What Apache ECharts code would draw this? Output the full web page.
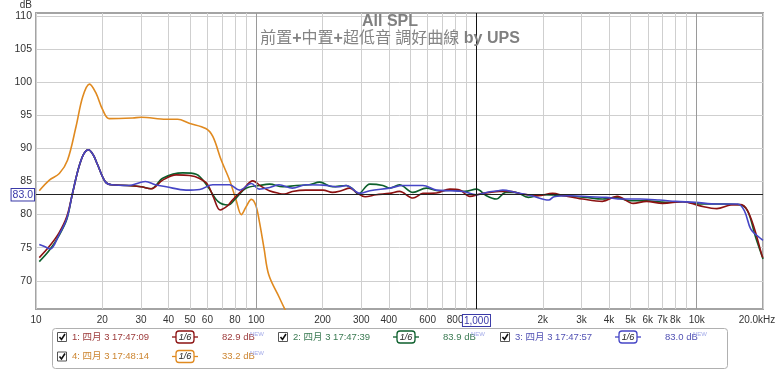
<!DOCTYPE html>
<html><head><meta charset="utf-8">
<script src="https://cdn.jsdelivr.net/npm/echarts@6/dist/echarts.min.js"></script>
<style>html,body{margin:0;padding:0;background:#fff}#c{width:780px;height:369px}</style>
</head><body><div id="c"></div>
<script>
const titleLine1 = 'All SPL';
const titleLine2 = '前置+中置+超低音 調好曲線 by UPS';
const yAxisName = 'dB';
const xTickValues = [10,20,30,40,50,60,80,100,200,300,400,600,800,1000,2000,3000,4000,5000,6000,7000,8000,10000,20000];
const xTickLabels = ['10','20','30','40','50','60','80','100','200','300','400','600','800','1,000','2k','3k','4k','5k','6k','7k','8k','10k','20.0kHz'];
const xGridValues = [10,20,30,40,50,60,70,80,90,100,200,300,400,500,600,700,800,900,1000,2000,3000,4000,5000,6000,7000,8000,9000,10000,20000];
const yTickValues = [70,75,80,85,90,95,100,105,110];
const refLevel = 83.0;
const refFreq = 1000;
const decadeFreqs = [100, 10000];

const seriesNames = ['1: 四月 3 17:47:09','2: 四月 3 17:47:39','3: 四月 3 17:47:57','4: 四月 3 17:48:14'];
const seriesLevels = ['82.9 dB','83.9 dB','83.0 dB','33.2 dB'];
const smoothingLabel = '1/6';
const newTag = 'NEW';

const freq1 = [10.35,11.5,12.7,13.8,14.6,15.6,16.5,17.3,18.2,19.0,20.6,22,26,30,33.3,37.6,43.3,49.8,55,60,64,68.6,74,78,86.6,96.5,105,114.6,127,134,146,168,201,222,243,266,285,312,350,403,447,515,571,658,757,840,932,1035,1147,1270,1407,1610,1906,2217,2500,3040,3730,4350,5150,5920,7000,8650,10270,12350,14300,15900,17000,18200,19800,20000];
const db1 = [73.5,75.2,77.2,79.7,83.0,87.0,89.2,89.8,89.0,87.6,85.0,84.5,84.4,84.2,83.9,85.2,86.0,85.9,85.5,84.6,82.6,80.7,81.3,82.2,83.7,85.1,84.3,83.6,83.2,83.1,83.5,83.7,83.7,83.35,83.6,84.0,83.35,82.7,83.0,83.2,83.5,82.5,83.2,83.25,83.85,83.7,82.75,83.1,83.35,83.5,83.5,83.1,82.85,83.2,82.85,82.35,82.0,82.75,81.7,82.0,81.7,81.95,81.35,80.9,81.45,81.5,80.6,78.1,73.8,73.5];

const freq2 = [10.35,11.5,12.7,13.8,14.6,15.6,16.5,17.3,18.2,19.0,20.6,22,26,30,33.3,37.6,46.4,53.4,60.3,67,74.5,81,90,103.4,115,132,152,174,194,222,256,275,290,328,376,403,447,515,592,676,779,883,1000,1110,1230,1360,1505,1720,2010,2250,2570,3150,3730,4270,4950,5920,7250,8650,10270,13300,15600,17000,18500,20000];
const db2 = [72.9,74.6,76.8,79.3,83.0,87.0,89.2,89.8,89.0,87.6,85.0,84.5,84.4,84.2,83.9,85.5,86.3,86.1,84.2,82.0,81.45,82.5,84.0,84.4,84.6,84.2,84.4,84.5,84.9,84.2,84.4,83.85,83.1,84.6,84.4,84.0,84.5,83.35,84.0,83.6,83.7,83.5,83.85,82.85,82.35,83.35,83.35,82.6,83.0,82.95,82.85,82.6,82.35,82.6,82.1,82.1,81.85,81.95,81.6,81.6,81.5,80.6,76.6,73.3];

const freq3 = [10.35,11.0,11.6,12.7,13.8,14.6,15.6,16.5,17.3,18.2,19.0,20.6,22,26.3,31.4,34.9,39,48,55.4,63.5,75.7,84,95,103,115,127,146,168,201,239,256,296,328,403,465,571,658,757,868,1000,1110,1250,1315,1505,1780,2130,2250,2660,3260,3870,4580,5540,6770,8040,9860,12350,15340,16450,17600,18850,20000];
const db3 = [75.5,75.15,74.8,76.9,79.4,83.0,87.0,89.2,89.8,89.0,87.6,85.0,84.5,84.4,85.0,84.5,84.2,83.7,83.8,84.5,84.5,83.7,84.7,83.85,84.1,84.5,84.0,84.5,84.45,84.2,84.4,83.2,83.6,84.0,84.4,84.4,83.7,83.6,83.5,83.0,83.35,83.6,83.7,83.35,82.85,82.2,82.7,82.85,82.7,82.6,82.35,82.35,82.2,82.0,81.85,81.6,81.6,80.6,77.8,76.8,76.1];

const freq4 = [10.35,11.5,12.76,13.9,15.2,16.3,17.5,18.75,20.1,21.5,27.5,30,39,44,49.6,59,63.5,69.4,75.7,81,85.6,90,95,99.5,103.4,108.5,114,127.6,136,140];
const db4 = [83.6,85.2,86.2,88.2,93.3,97.8,99.7,98.3,95.8,94.5,94.6,94.7,94.4,94.4,93.8,93.0,91.8,88.2,85.2,82.2,80.0,81.2,82.3,81.4,78.9,74.9,70.9,67.4,65.5,65.0];

const lineColors = ['#8c1212','#0c5f2c','#4646c6','#e08a20'];
const textColors = ['#9c3a3a','#3a7a52','#5252b4','#cc8530'];

const FONT = '"Liberation Sans", Arial, "Noto Sans CJK TC", sans-serif';
const pairs = (f, d) => f.map((v, i) => [v, d[i]]);

const chart = echarts.init(document.getElementById('c'), null, {renderer: 'canvas'});

function xLabel(v) {
  for (let k = 0; k < xTickValues.length; k++) {
    if (Math.abs(xTickValues[k] - v) / v < 1e-6) {
      const t = xTickLabels[k];
      if (xTickValues[k] === refFreq) return '{b|' + t + '}';
      if (k === xTickValues.length - 1) return '{k|' + t + '}';
      return t;
    }
  }
  return '';
}

const title2Rich = titleLine2.split(/(\+|by UPS)/).filter(s => s).map(s =>
  (s === '+' || s === 'by UPS') ? '{b|' + s + '}' : '{a|' + s + '}').join('');

// legend graphics
const legendCols = [57, 278, 500];
const legendRows = [337, 356.5];
const slots = [[0,0],[1,0],[2,0],[0,1]];
const graphics = [{
  type: 'rect', shape: {x: 52.5, y: 328.5, width: 675, height: 40, r: 3},
  style: {fill: '#fff', stroke: '#b0b0b0', lineWidth: 1}, z: 1
}];
seriesNames.forEach((name, i) => {
  const x0 = legendCols[slots[i][0]], y = legendRows[slots[i][1]];
  graphics.push({type: 'rect', shape: {x: x0 + 0.5, y: y - 4.5, width: 9, height: 9},
    style: {fill: '#fff', stroke: '#555', lineWidth: 1}, z: 2});
  graphics.push({type: 'polyline', shape: {points: [[x0 + 2.5, y], [x0 + 4.5, y + 2.5], [x0 + 8, y - 3]]},
    style: {stroke: '#111', lineWidth: 1.6, fill: null}, z: 3});
  graphics.push({type: 'text', x: x0 + 15, y: y, style: {text: name, fill: textColors[i], fontSize: 9.5,
    fontFamily: FONT, verticalAlign: 'middle', align: 'left'}, z: 3});
  const cx = x0 + 128;
  graphics.push({type: 'rect', shape: {x: cx - 9, y: y - 6, width: 18, height: 12, r: 3},
    style: {fill: '#fff', stroke: lineColors[i], lineWidth: 1.3}, z: 2});
  graphics.push({type: 'line', shape: {x1: cx - 13, y1: y, x2: cx - 9, y2: y},
    style: {stroke: lineColors[i], lineWidth: 1.3}, z: 2});
  graphics.push({type: 'line', shape: {x1: cx + 9, y1: y, x2: cx + 13, y2: y},
    style: {stroke: lineColors[i], lineWidth: 1.3}, z: 2});
  graphics.push({type: 'text', x: cx, y: y, style: {text: smoothingLabel, fill: '#222', fontSize: 9,
    fontFamily: FONT, fontStyle: 'italic', verticalAlign: 'middle', align: 'center'}, z: 3});
  graphics.push({type: 'text', x: x0 + 165, y: y, style: {text: seriesLevels[i], fill: textColors[i], fontSize: 9.5,
    fontFamily: FONT, verticalAlign: 'middle', align: 'left'}, z: 3});
  graphics.push({type: 'text', x: x0 + 193, y: y - 3, style: {text: newTag, fill: '#a0a8e8', fontSize: 6,
    fontFamily: FONT, verticalAlign: 'middle', align: 'left'}, z: 3});
});

const lineSeries = (idx, f, d) => ({
  type: 'line', name: seriesNames[idx], data: pairs(f, d), smooth: 0.35, showSymbol: false,
  lineStyle: {color: lineColors[idx], width: 1.6}, itemStyle: {color: lineColors[idx]},
  silent: true, clip: true, z: 3
});

chart.setOption({
  animation: false,
  backgroundColor: '#fff',
  textStyle: {fontFamily: FONT},
  title: [
    {text: titleLine1, left: 'center', top: 14, padding: 0,
     textStyle: {fontSize: 16, fontWeight: 'bold', color: '#808080', fontFamily: FONT}},
    {text: title2Rich, left: 'center', top: 31, padding: 0,
     textStyle: {fontSize: 16, fontWeight: 'normal', color: '#808080', fontFamily: FONT,
       rich: {a: {fontSize: 16, fontWeight: 'normal', color: '#858585', fontFamily: FONT},
              b: {fontSize: 16, color: '#808080', fontWeight: 'bold', fontFamily: FONT}}}}
  ],
  grid: {left: 36, right: 17, top: 13, bottom: 60, show: true, borderColor: '#a4a4a4', borderWidth: 2,
         backgroundColor: '#fff', containLabel: false},
  xAxis: {
    type: 'log', logBase: 10, min: 10, max: 20000,
    axisLine: {show: false},
    axisTick: {show: false, customValues: xGridValues},
    splitLine: {show: true, lineStyle: {color: '#cfcfcf', width: 1}},
    axisLabel: {customValues: xTickValues, formatter: xLabel, color: '#333', fontSize: 10, margin: 6,
      fontFamily: FONT,
      rich: {b: {color: '#3a3aa8', borderColor: '#3a3aa8', borderWidth: 1, padding: [1, 1, 0, 1], fontSize: 10, backgroundColor: '#fff'},
             k: {color: '#333', fontSize: 10, padding: [0, 12, 0, 0]}}}
  },
  yAxis: {
    type: 'value', min: 65.74, max: 110.45,
    name: yAxisName, nameLocation: 'end', nameGap: 8,
    nameTextStyle: {color: '#333', fontSize: 10, align: 'right', verticalAlign: 'middle', padding: [0, 4, 0, 0]},
    axisLine: {show: false},
    axisTick: {show: false, customValues: yTickValues},
    splitLine: {show: true, lineStyle: {color: '#cfcfcf', width: 1}},
    axisLabel: {customValues: yTickValues, color: '#333', fontSize: 10.5, margin: 4, fontFamily: FONT}
  },
  graphic: graphics,
  series: [
    {type: 'line', data: [], silent: true, z: 2,
     markLine: {silent: true, symbol: 'none', animation: false,
       data: [
         ...decadeFreqs.map(f => ({xAxis: f, lineStyle: {color: '#9a9a9a', width: 1, type: 'solid'}, label: {show: false}})),
         {xAxis: refFreq, lineStyle: {color: '#111', width: 1, type: 'solid'}, label: {show: false}},
         {yAxis: refLevel, lineStyle: {color: '#222', width: 1, type: 'solid'},
          label: {show: true, position: 'start', distance: 2, formatter: refLevel.toFixed(1), color: '#3a3aa8',
                  borderColor: '#3a3aa8', borderWidth: 1, padding: [1, 1, 0, 1], backgroundColor: '#fff',
                  fontSize: 10.5, fontFamily: FONT}}
       ]}},
    lineSeries(3, freq4, db4),
    lineSeries(1, freq2, db2),
    lineSeries(0, freq1, db1),
    lineSeries(2, freq3, db3)
  ]
});
</script></body></html>
